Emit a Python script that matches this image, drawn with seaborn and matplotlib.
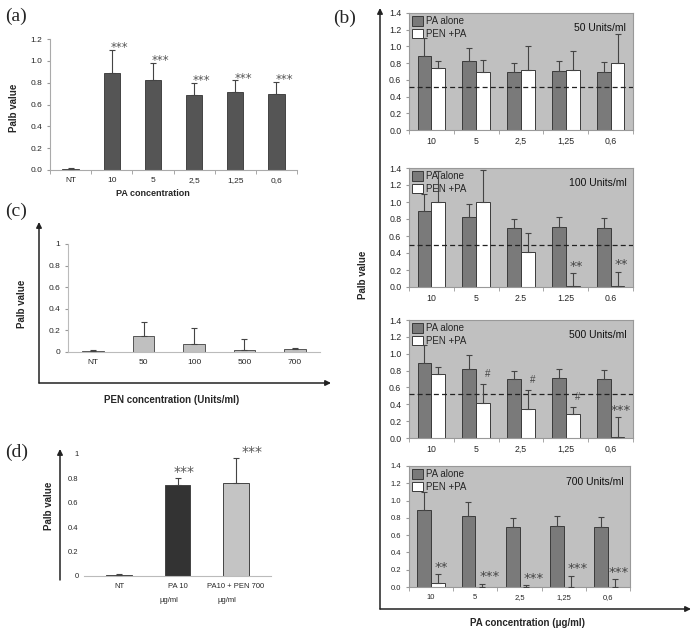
import numpy as np
import pandas as pd
import matplotlib
matplotlib.use("Agg")
import matplotlib.pyplot as plt
import seaborn as sns

# -------------------------------
# DATA
# -------------------------------
# (a) PA alone
pa_conc_a = ["NT", "10", "5", "2,5", "1,25", "0,6"]
palb_a = [0.01, 0.89, 0.82, 0.69, 0.71, 0.70]
palb_a_err = [0.005, 0.21, 0.16, 0.11, 0.11, 0.11]
stars_a = ["", "***", "***", "***", "***", "***"]

# (b) PA alone vs PEN + PA, one sub-panel per PEN dose
pa_conc_b_comma = ["10", "5", "2,5", "1,25", "0,6"]
pa_conc_b_dot = ["10", "5", "2.5", "1.25", "0.6"]
pen_units = ["50 Units/ml", "100 Units/ml", "500 Units/ml", "700 Units/ml"]
pa_alone = [0.89, 0.82, 0.70, 0.71, 0.70]
pa_alone_err = [0.21, 0.16, 0.10, 0.11, 0.11]

pen_pa_50 = [0.74, 0.70, 0.72, 0.72, 0.80]
pen_pa_50_err = [0.09, 0.14, 0.28, 0.23, 0.35]
marks_50 = ["", "", "", "", ""]

pen_pa_100 = [1.00, 1.00, 0.41, 0.01, 0.01]
pen_pa_100_err = [0.37, 0.38, 0.22, 0.15, 0.17]
marks_100 = ["", "", "", "**", "**"]

pen_pa_500 = [0.76, 0.41, 0.35, 0.28, 0.01]
pen_pa_500_err = [0.08, 0.23, 0.22, 0.09, 0.24]
marks_500 = ["", "#", "#", "#", "***"]

pen_pa_700 = [0.05, 0.005, 0.005, 0.005, 0.005]
pen_pa_700_err = [0.10, 0.035, 0.015, 0.125, 0.085]
marks_700 = ["**", "***", "***", "***", "***"]

cutoffs_b = [0.51, 0.50, 0.52, None]

# (c) PEN alone
pen_conc_c = ["NT", "50", "100", "500", "700"]
palb_c = [0.01, 0.15, 0.07, 0.02, 0.03]
palb_c_err = [0.005, 0.13, 0.15, 0.10, 0.01]

# (d) PA 10 with / without PEN 700
groups_d = ["NT", "PA 10", "PA10 + PEN 700"]
units_d = ["", "μg/ml", "μg/ml"]
palb_d = [0.01, 0.75, 0.76]
palb_d_err = [0.005, 0.05, 0.21]
stars_d = ["", "***", "***"]

W, H = 694, 633
STAR_FONT = "DejaVu Sans"

sns.set_style("ticks")
plt.rcParams["font.family"] = ["Liberation Sans", "DejaVu Sans"]

fig = plt.figure(figsize=(W / 100, H / 100), dpi=100)


def rect(left, top, right, bottom):
    return [left / W, 1 - bottom / H, (right - left) / W, (bottom - top) / H]


def ftext(x, y, s, **kw):
    fig.text(x / W, 1 - y / H, s, **kw)


# overlay in pixel coords for arrows and big labels
ov = fig.add_axes([0, 0, 1, 1])
ov.set_xlim(0, W)
ov.set_ylim(H, 0)
ov.axis("off")


def arrow(x0, y0, x1, y1):
    ov.annotate("", xy=(x1, y1), xytext=(x0, y0),
                arrowprops=dict(arrowstyle="-|>", color="#222222", lw=1.1,
                                mutation_scale=8, shrinkA=0, shrinkB=0))


def up_err(ax, xs, hs, errs):
    ax.errorbar(xs, hs, yerr=[np.zeros(len(errs)), errs], fmt="none",
                ecolor="#444444", elinewidth=0.8, capsize=2.2, capthick=0.8,
                zorder=5)


def excel_xaxis(ax, n):
    ax.set_xticks(np.arange(-0.5, n), minor=True)
    ax.tick_params(axis="x", which="major", length=0, pad=5)
    ax.tick_params(axis="x", which="minor", length=3, color="#999999")


# -------------------------------
# (a)
# -------------------------------
ax_a = fig.add_axes(rect(50, 39, 297, 170))
sns.barplot(x=pa_conc_a, y=palb_a, color="#555555", width=0.4,
            edgecolor="#333333", linewidth=0.6, errorbar=None, ax=ax_a)
up_err(ax_a, range(len(palb_a)), palb_a, palb_a_err)
for i, s in enumerate(stars_a):
    if s:
        ax_a.text(i + 0.19, palb_a[i] + palb_a_err[i] + 0.02, s,
                  ha="center", va="center", fontsize=8.5, color="#555555",
                  family=STAR_FONT)
ax_a.set_ylim(0, 1.2)
ax_a.set_xlim(-0.4, 5.4)
ax_a.set_yticks(np.arange(0, 1.21, 0.2))
ax_a.set_yticklabels([f"{v:.1f}" for v in np.arange(0, 1.21, 0.2)])
excel_xaxis(ax_a, len(pa_conc_a))
ax_a.tick_params(axis="y", length=2, labelsize=6, color="#999999")
ax_a.tick_params(axis="x", labelsize=6)
for side in ["top", "right"]:
    ax_a.spines[side].set_visible(False)
for side in ["left", "bottom"]:
    ax_a.spines[side].set_color("#aaaaaa")
ax_a.set_xlabel("")
ax_a.set_ylabel("")

ftext(5, 16, "(a)", family="Liberation Serif", fontsize=14, va="center")
ftext(14, 108, "Palb value", rotation=90, fontsize=7, fontweight="bold",
      ha="center", va="center")
ftext(153, 193, "PA concentration", fontsize=6.5, fontweight="bold",
      ha="center", va="center")

# -------------------------------
# (b)
# -------------------------------
b_rects = [rect(409, 13, 633, 130), rect(409, 168, 633, 287),
           rect(409, 320, 633, 438), rect(409, 466, 630, 587)]
pen_vals = [pen_pa_50, pen_pa_100, pen_pa_500, pen_pa_700]
pen_errs = [pen_pa_50_err, pen_pa_100_err, pen_pa_500_err, pen_pa_700_err]
pen_marks = [marks_50, marks_100, marks_500, marks_700]
tick_sets = [pa_conc_b_comma, pa_conc_b_dot, pa_conc_b_comma, pa_conc_b_comma]
pal = {"PA alone": "#7a7a7a", "PEN +PA": "#ffffff"}

for k in range(4):
    ax = fig.add_axes(b_rects[k])
    ticks = tick_sets[k]
    df = pd.DataFrame({
        "conc": ticks * 2,
        "palb": pa_alone + pen_vals[k],
        "group": ["PA alone"] * len(ticks) + ["PEN +PA"] * len(ticks),
    })
    sns.barplot(data=df, x="conc", y="palb", hue="group", palette=pal,
                width=0.62, gap=0, errorbar=None, edgecolor="#3a3a3a",
                linewidth=0.7, ax=ax)
    pen_x = []
    for cont, errs in zip(ax.containers, [pa_alone_err, pen_errs[k]]):
        xs = [p.get_x() + p.get_width() / 2 for p in cont]
        hs = [p.get_height() for p in cont]
        up_err(ax, xs, hs, errs)
        pen_x = xs
    for i, m in enumerate(pen_marks[k]):
        if m:
            top = pen_vals[k][i] + pen_errs[k][i]
            if m == "#":
                ax.text(pen_x[i] + 0.1, top + 0.12, m, ha="center",
                        va="center", fontsize=7, color="#444444")
            else:
                dx = 0.17 if k == 3 and i in (1, 2, 3) else 0.08
                ax.text(pen_x[i] + dx, top + 0.08, m, ha="center",
                        va="center", fontsize=9.5, color="#444444",
                        family=STAR_FONT)
    if cutoffs_b[k] is not None:
        ax.axhline(cutoffs_b[k], color="#222222", lw=0.9, ls=(0, (4, 2.5)),
                   zorder=4)
    ax.set_facecolor("#c0c0c0")
    ax.set_ylim(0, 1.4)
    ax.set_xlim(-0.5, 4.5)
    ax.set_yticks(np.arange(0, 1.41, 0.2))
    ax.set_yticklabels([f"{v:.1f}" for v in np.arange(0, 1.41, 0.2)])
    excel_xaxis(ax, len(ticks))
    ax.tick_params(axis="y", length=2, labelsize=6.3 if k < 3 else 5.5,
                   color="#999999")
    ax.tick_params(axis="x", labelsize=6.3 if k < 3 else 5.5)
    for side in ax.spines:
        ax.spines[side].set_color("#999999")
    ax.set_xlabel("")
    ax.set_ylabel("")
    handles, labels = ax.get_legend_handles_labels()
    ax.legend(handles, labels, loc="upper left", frameon=False, fontsize=7,
              handlelength=1.1, handleheight=1.1, handletextpad=0.3,
              labelspacing=0.25, borderaxespad=0.15, borderpad=0.2)
    ax.text(0.97, 0.87, pen_units[k], transform=ax.transAxes, ha="right",
            va="center", fontsize=7.5, color="#111111")

arrow(380, 609, 380, 8)
arrow(380, 609, 691, 609)
ftext(333, 18, "(b)", family="Liberation Serif", fontsize=14, va="center")
ftext(363, 275, "Palb value", rotation=90, fontsize=7, fontweight="bold",
      ha="center", va="center")
ftext(527, 623, "PA concentration (μg/ml)", fontsize=7, fontweight="bold",
      ha="center", va="center")

# -------------------------------
# (c)
# -------------------------------
ax_c = fig.add_axes(rect(68, 244, 320, 352))
sns.barplot(x=pen_conc_c, y=palb_c, color="#c0c0c0", width=0.43,
            edgecolor="#555555", linewidth=0.7, errorbar=None, ax=ax_c)
up_err(ax_c, range(len(palb_c)), palb_c, palb_c_err)
ax_c.set_ylim(0, 1.0)
ax_c.set_xlim(-0.5, 4.5)
ax_c.set_yticks(np.arange(0, 1.01, 0.2))
ax_c.set_yticklabels(["0", "0.2", "0.4", "0.6", "0.8", "1"])
ax_c.tick_params(axis="y", length=2, labelsize=6, color="#999999")
ax_c.tick_params(axis="x", length=0, labelsize=6, pad=5)
for side in ["top", "right"]:
    ax_c.spines[side].set_visible(False)
for side in ["left", "bottom"]:
    ax_c.spines[side].set_color("#bbbbbb")
ax_c.set_xlabel("")
ax_c.set_ylabel("")

arrow(39, 383, 39, 222)
arrow(39, 383, 331, 383)
ftext(5, 211, "(c)", family="Liberation Serif", fontsize=14, va="center")
ftext(22, 304, "Palb value", rotation=90, fontsize=7, fontweight="bold",
      ha="center", va="center")
ftext(172, 400, "PEN concentration (Units/ml)", fontsize=7, fontweight="bold",
      ha="center", va="center")

# -------------------------------
# (d)
# -------------------------------
ax_d = fig.add_axes(rect(84, 454, 271, 576))
sns.barplot(x=groups_d, y=palb_d, hue=groups_d,
            palette=["#333333", "#333333", "#c4c4c4"], width=0.43,
            edgecolor="#444444", linewidth=0.7, errorbar=None, legend=False,
            ax=ax_d)
up_err(ax_d, range(len(palb_d)), palb_d, palb_d_err)
for i, s in enumerate(stars_d):
    if s:
        ax_d.text(i + (0.12 if i == 1 else 0.27), palb_d[i] + palb_d_err[i] + 0.05,
                  s, ha="center", va="center", fontsize=10, color="#555555",
                  family=STAR_FONT)
for i, u in enumerate(units_d):
    if u:
        ax_d.text(i - 0.15, -0.2, u, ha="center", va="center", fontsize=5.5,
                  transform=ax_d.get_xaxis_transform())
ax_d.set_ylim(0, 1.0)
ax_d.set_xlim(-0.6, 2.6)
ax_d.set_yticks(np.arange(0, 1.01, 0.2))
ax_d.set_yticklabels(["0", "0.2", "0.4", "0.6", "0.8", "1"])
ax_d.tick_params(axis="y", length=0, labelsize=5.5, pad=4)
ax_d.tick_params(axis="x", length=0, labelsize=5.5, pad=5)
for side in ["top", "right", "left"]:
    ax_d.spines[side].set_visible(False)
ax_d.spines["bottom"].set_color("#bbbbbb")
ax_d.set_xlabel("")
ax_d.set_ylabel("")

arrow(60, 580, 60, 449)
ftext(5, 452, "(d)", family="Liberation Serif", fontsize=14, va="center")
ftext(49, 506, "Palb value", rotation=90, fontsize=7, fontweight="bold",
      ha="center", va="center")

fig.savefig("out.png", dpi=100)
